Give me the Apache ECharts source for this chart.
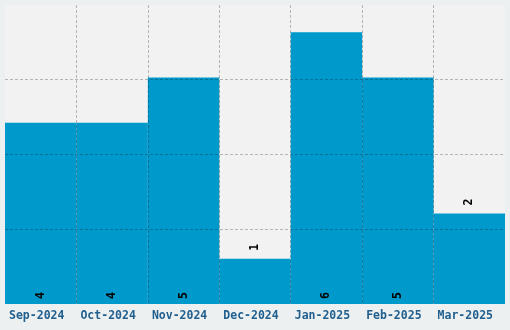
<!DOCTYPE html>
<html><head><meta charset="utf-8">
<script src="https://cdn.jsdelivr.net/npm/echarts@6/dist/echarts.min.js"></script>
<style>html,body{margin:0;padding:0;background:#edf0f0;}#c{width:510px;height:330px;}</style>
</head><body><div id="c"></div>
<script>
const categories = ['Sep-2024','Oct-2024','Nov-2024','Dec-2024','Jan-2025','Feb-2025','Mar-2025'];
const values = [4,4,5,1,6,5,2];
const labelOutside = [false,false,false,true,false,false,true];

const chart = echarts.init(document.getElementById('c'));
const font = '"DejaVu Sans Mono", monospace';
chart.setOption({
  backgroundColor: '#edf0f0',
  animation: false,
  grid: {left:5, right:5, top:5, bottom:26, show:true, backgroundColor:'#f2f2f2', borderWidth:0},
  xAxis: {
    type:'category', data: categories, z: 3,
    axisLine:{show:false}, axisTick:{show:false},
    axisLabel:{interval:0, hideOverlap:false, color:'#205f8e', fontFamily:font, fontWeight:'bold', fontSize:11.5, margin:6, padding:[0,8,0,0]},
    splitLine:{show:true, interval:0, showMinLine:false, showMaxLine:false, lineStyle:{color:'rgba(0,0,0,0.25)', type:[3,2], width:1}}
  },
  yAxis: {
    type:'value', min:0, max:6.6, interval:1.65, z: 3,
    axisLine:{show:false}, axisTick:{show:false}, axisLabel:{show:false},
    splitLine:{show:true, showMinLine:false, showMaxLine:false, lineStyle:{color:'rgba(0,0,0,0.25)', type:[3,2], width:1}}
  },
  series: [{
    type:'bar', barCategoryGap:'0%',
    itemStyle:{color:'#0099cc'},
    data: values.map((v,i)=>({
      value:v,
      label:{show:true, position: labelOutside[i] ? 'top' : 'insideBottom', rotate:90,
        align:'left', verticalAlign:'middle', distance: labelOutside[i] ? 8 : 5,
        color:'#000', fontFamily:font, fontWeight:'bold', fontSize:11.5}
    }))
  }]
});
</script></body></html>
